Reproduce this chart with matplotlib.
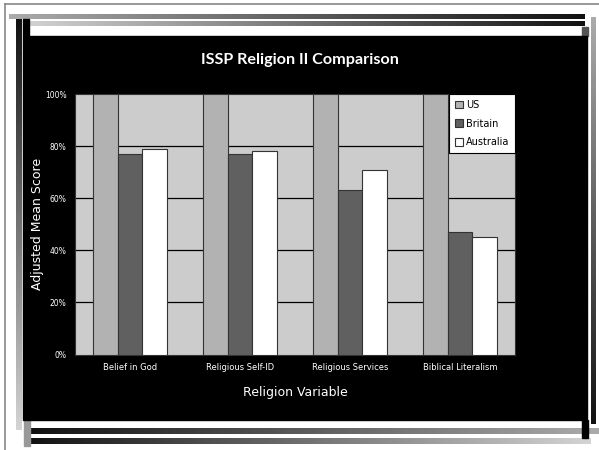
import numpy as np
import matplotlib
matplotlib.use("Agg")
import matplotlib.pyplot as plt
from matplotlib.patches import Rectangle

categories = ["Belief in God", "Religious Self-ID", "Religious Services", "Biblical Literalism"]
series_names = ["US", "Britain", "Australia"]
us = [100, 100, 100, 100]
britain = [77, 77, 63, 47]
australia = [79, 78, 71, 45]
yticks = [0, 20, 40, 60, 80, 100]
ytick_labels = ["0%", "20%", "40%", "60%", "80%", "100%"]

W, H = 599, 450
fig = plt.figure(figsize=(W / 100, H / 100), dpi=100)
fig.patch.set_facecolor("white")

# decoration layer in pixel coordinates
deco = fig.add_axes([0, 0, 1, 1], zorder=0)
deco.set_xlim(0, W)
deco.set_ylim(H, 0)
deco.axis("off")


def grad(ax, x0, x1, y0, y1, c0, c1, horizontal=True):
    v = np.linspace(c0, c1, 256)
    img = v.reshape(1, -1) if horizontal else v.reshape(-1, 1)
    ax.imshow(img, cmap="gray", vmin=0, vmax=1, extent=[x0, x1, y1, y0],
              aspect="auto", interpolation="bilinear")


# thin frame lines
deco.plot([5, W], [4, 4], color="#888888", lw=1.2)
deco.plot([5, 5], [4, H], color="#888888", lw=1.2)
# top bars
grad(deco, 9, 585, 14, 19, 0.67, 0.07)
grad(deco, 29, 585, 21, 26, 0.82, 0.07)
# bottom bars
grad(deco, 31, 599, 428, 434, 0.07, 0.67)
grad(deco, 31, 591, 438, 444, 0.07, 0.83)
# vertical bars
grad(deco, 16, 22, 19, 430, 0.07, 0.83, horizontal=False)
grad(deco, 591, 596, 17, 424, 0.67, 0.07, horizontal=False)
# small blocks
deco.add_patch(Rectangle((23, 19), 6, 17, color="black"))
deco.add_patch(Rectangle((582, 27), 6, 9, color="#555555"))
deco.add_patch(Rectangle((24, 420), 6, 26, color="#999999"))
deco.add_patch(Rectangle((582, 420), 6, 18, color="black"))
# black panel
deco.add_patch(Rectangle((23, 36), 564, 384, color="black"))
deco.set_xlim(0, W)
deco.set_ylim(H, 0)

# chart axes
left, right, top, bottom = 75, 515, 94, 354.5
ax = fig.add_axes([left / W, 1 - bottom / H, (right - left) / W, (bottom - top) / H], zorder=1)
ax.set_facecolor("#cccccc")

x = np.arange(len(categories))
bw = 1 / 4.5
colors = ["#b2b2b2", "#606060", "#ffffff"]
for i, (vals, name, c) in enumerate(zip([us, britain, australia], series_names, colors)):
    ax.bar(x + (i - 1) * bw, vals, bw, color=c, edgecolor="#333333", linewidth=0.8,
           label=name, zorder=3)

ax.set_xlim(-0.5, len(categories) - 0.5)
ax.set_ylim(0, 100)
ax.set_yticks(yticks)
ax.set_yticklabels(ytick_labels, color="white", fontsize=5.5)
ax.set_xticks(x)
ax.set_xticklabels(categories, color="white", fontsize=6)
ax.tick_params(axis="both", length=0, pad=6)
for yv in yticks[1:-1]:
    ax.axhline(yv, color="black", lw=0.9, zorder=2)
for s in ax.spines.values():
    s.set_color("#333333")
    s.set_linewidth(0.8)

ax.set_ylabel("Adjusted Mean Score", color="white", fontsize=9, labelpad=1)
ax.set_xlabel("Religion Variable", color="white", fontsize=9, labelpad=10)

leg = ax.legend(loc="upper right", bbox_to_anchor=(1.0, 1.0), fontsize=7, frameon=True,
                fancybox=False, borderaxespad=0, handlelength=0.8, handleheight=0.8,
                handletextpad=0.3, labelspacing=0.9, borderpad=0.6)
leg.get_frame().set_edgecolor("black")
leg.get_frame().set_linewidth(0.8)
leg.get_frame().set_facecolor("white")
leg.get_frame().set_alpha(1)
leg.set_zorder(5)

fig.text(0.5, 1 - 60 / H, "ISSP Religion II Comparison", color="white", fontsize=11.6,
         family="Lato", fontweight="bold", ha="center", va="center", zorder=3)

fig.savefig("out.png", dpi=100, facecolor="white")
